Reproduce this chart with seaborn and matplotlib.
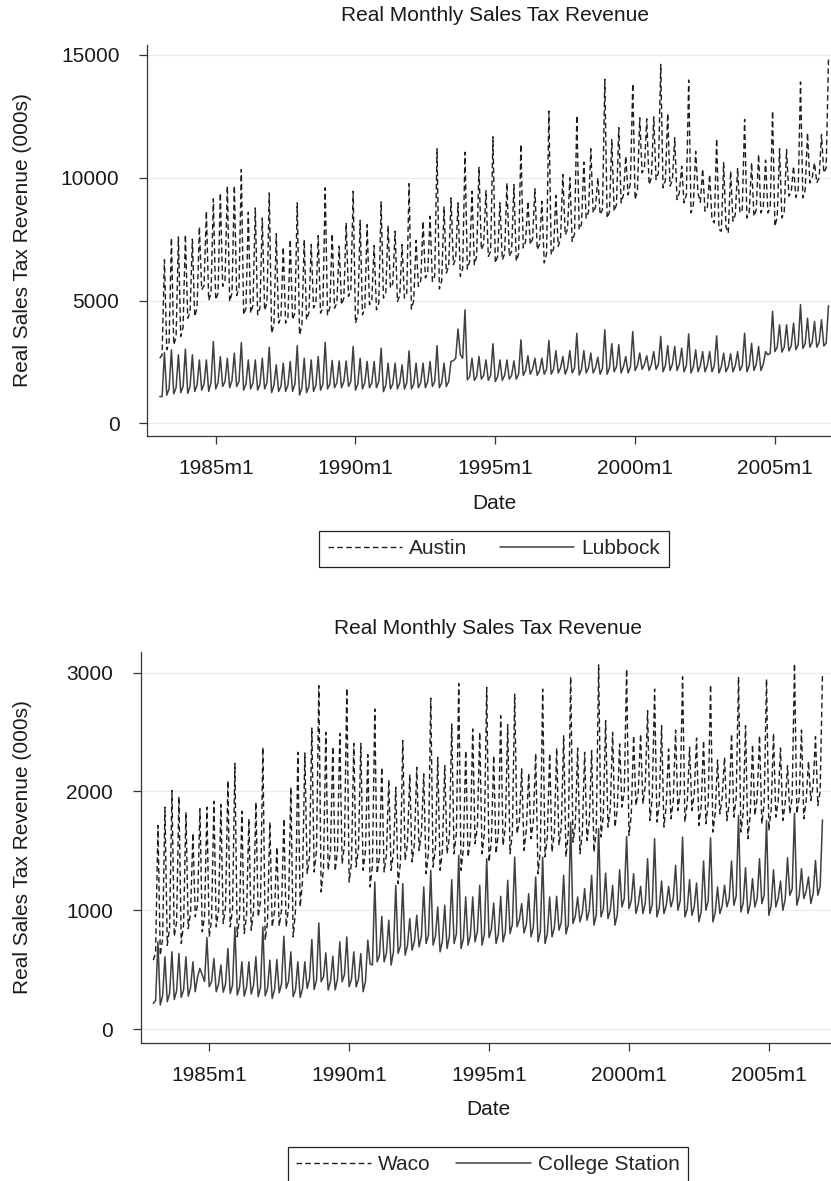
import numpy as np
import pandas as pd
import matplotlib
matplotlib.use('Agg')
import matplotlib.pyplot as plt
import seaborn as sns

# monthly observations, 1983m1 .. 2006m12
months = pd.period_range('1983-01', '2006-12', freq='M')
tick_labels = ['1985m1', '1990m1', '1995m1', '2000m1', '2005m1']

# Real monthly sales tax revenue (000s), one row per year
austin = [
    2650, 2790, 6660, 3000, 3300, 7550, 3200, 3500, 7590, 3540, 3900, 7680,       # 1983
    4280, 4500, 7500, 4350, 4700, 8000, 5440, 5600, 8640, 5000, 5300, 9140,       # 1984
    5030, 5300, 9380, 5580, 5800, 9660, 4960, 5300, 9680, 5200, 5500, 10340,      # 1985
    4420, 4700, 8600, 4490, 4800, 8770, 4420, 4700, 8360, 4600, 4900, 9380,       # 1986
    3670, 4000, 7720, 4080, 4300, 7180, 4080, 4300, 7480, 4220, 4500, 8980,       # 1987
    3600, 4000, 7480, 4220, 4500, 7280, 4700, 4900, 7640, 4490, 4700, 9590,       # 1988
    4420, 4700, 7720, 4690, 4900, 7210, 4830, 5100, 8160, 5170, 5400, 9450,       # 1989
    4080, 4400, 8270, 4420, 4700, 8090, 4830, 5000, 7240, 4620, 4900, 9020,       # 1990
    5100, 5300, 8050, 5510, 5700, 7820, 4960, 5200, 7280, 5100, 5300, 9760,       # 1991
    4650, 5000, 7450, 5580, 5800, 8230, 5920, 6100, 8430, 5780, 6000, 11180,      # 1992
    5470, 5800, 8810, 6120, 6400, 9180, 6460, 6700, 8980, 5980, 6300, 11040,      # 1993
    6280, 6600, 9450, 6460, 6800, 10430, 7070, 7300, 9480, 6800, 7000, 11670,     # 1994
    6530, 6800, 8980, 6660, 6900, 9790, 6800, 7000, 9720, 6600, 6900, 11360,      # 1995
    7140, 7400, 9040, 7280, 7500, 9550, 7070, 7300, 9040, 6530, 6900, 12720,      # 1996
    6870, 7100, 9280, 7210, 7500, 10130, 7680, 7900, 10000, 7410, 7700, 12540,    # 1997
    7890, 8100, 10640, 8360, 8600, 11180, 8570, 8800, 10000, 8500, 8700, 14010,   # 1998
    8360, 8600, 11560, 8640, 8900, 12040, 8980, 9300, 10880, 9300, 9800, 13840,   # 1999
    9110, 9500, 12440, 10200, 10400, 12400, 9720, 10000, 12480, 9930, 10200, 14620,  # 2000
    9590, 9900, 12620, 9660, 9900, 11630, 9110, 9400, 10470, 8980, 9300, 13980,   # 2001
    8570, 8900, 11080, 9380, 9000, 10360, 8640, 8800, 10130, 8300, 8160, 11590,   # 2002
    7900, 7820, 10610, 8000, 7750, 10270, 8230, 8500, 10400, 8570, 8700, 12380,   # 2003
    8360, 8600, 10610, 8430, 8700, 10950, 8570, 8800, 10720, 8570, 8800, 12720,   # 2004
    8020, 8400, 11180, 8360, 8600, 11150, 9250, 9400, 10470, 9200, 9500, 13900,   # 2005
    9180, 9500, 11830, 9790, 10000, 10610, 9790, 10000, 11760, 10200, 10400, 14850,  # 2006
]

lubbock = [
    1090, 1090, 2880, 1150, 1400, 2990, 1200, 1450, 2790, 1250, 1500, 3020,  # 1983
    1220, 1500, 2790, 1300, 1550, 2580, 1350, 1600, 2580, 1300, 1650, 3330,  # 1984
    1400, 1650, 2720, 1500, 1700, 2650, 1450, 1750, 2860, 1500, 1700, 3290,  # 1985
    1350, 1600, 2580, 1400, 1650, 2580, 1350, 1600, 2650, 1400, 1650, 3100,  # 1986
    1250, 1550, 2380, 1300, 1500, 2450, 1300, 1550, 2520, 1300, 1600, 3160,  # 1987
    1150, 1450, 2650, 1250, 1500, 2580, 1300, 1550, 2720, 1350, 1600, 3300,  # 1988
    1400, 1600, 2560, 1450, 1650, 2540, 1450, 1700, 2540, 1500, 1700, 3130,  # 1989
    1350, 1600, 2650, 1400, 1650, 2520, 1450, 1650, 2520, 1450, 1700, 3060,  # 1990
    1290, 1550, 2450, 1400, 1600, 2450, 1400, 1650, 2380, 1400, 1650, 2950,  # 1991
    1400, 1600, 2450, 1450, 1650, 2450, 1450, 1700, 2520, 1500, 1700, 3160,  # 1992
    1450, 1650, 2450, 1500, 1700, 2520, 2550, 2650, 3840, 2790, 2650, 4620,  # 1993
    1770, 1900, 2650, 1750, 1900, 2720, 1800, 1950, 2580, 1750, 1950, 3240,  # 1994
    1700, 1900, 2580, 1750, 1950, 2580, 1800, 1950, 2540, 1800, 2000, 3400,  # 1995
    1950, 2150, 2750, 2000, 2200, 2650, 1950, 2150, 2650, 2000, 2200, 3370,  # 1996
    2000, 2200, 2960, 2050, 2250, 2720, 2000, 2250, 2960, 2050, 2250, 3670,  # 1997
    1970, 2200, 2960, 2050, 2250, 2860, 2050, 2250, 2690, 2000, 2250, 3810,  # 1998
    2000, 2250, 3240, 2100, 2300, 3200, 2050, 2300, 2720, 2050, 2300, 3740,  # 1999
    2150, 2350, 2860, 2200, 2400, 2750, 2150, 2400, 2920, 2200, 2400, 3540,  # 2000
    2100, 2350, 3160, 2150, 2400, 3130, 2150, 2400, 3060, 2100, 2350, 3640,  # 2001
    2050, 2300, 2990, 2100, 2350, 2920, 2100, 2350, 2920, 2100, 2350, 3560,  # 2002
    2050, 2300, 2860, 2100, 2300, 2830, 2100, 2350, 2920, 2150, 2350, 3670,  # 2003
    2100, 2350, 3260, 2150, 2400, 3130, 2150, 2400, 2920, 2790, 2850, 4560,  # 2004
    2920, 3100, 4010, 2900, 3100, 4010, 2950, 3150, 4080, 3000, 3200, 4830,  # 2005
    3050, 3250, 4280, 3100, 3300, 4150, 3100, 3300, 4220, 3150, 3260, 4790,  # 2006
]

waco = [
    580, 640, 1714, 620, 760, 1868, 705, 850, 2008, 780, 900, 1957,          # 1983
    720, 880, 1826, 845, 980, 1649, 944, 1050, 1854, 818, 950, 1868,         # 1984
    776, 920, 1918, 860, 1000, 1890, 888, 1030, 2092, 860, 1010, 2237,       # 1985
    776, 950, 1834, 804, 960, 1770, 832, 990, 1910, 944, 1080, 2372,         # 1986
    748, 900, 1742, 860, 990, 1532, 865, 1000, 1770, 860, 1020, 2036,        # 1987
    776, 1000, 2330, 1028, 1250, 2324, 1308, 1450, 2534, 1322, 1500, 2890,   # 1988
    1154, 1350, 2498, 1336, 1500, 2377, 1330, 1500, 2489, 1392, 1550, 2870,  # 1989
    1238, 1400, 2405, 1364, 1520, 2405, 1336, 1500, 2310, 1196, 1380, 2694,  # 1990
    1308, 1450, 2204, 1322, 1470, 2097, 1336, 1480, 2036, 1224, 1400, 2428,  # 1991
    1420, 1560, 2142, 1406, 1560, 2204, 1504, 1650, 2148, 1308, 1480, 2786,  # 1992
    1364, 1520, 2288, 1336, 1500, 2218, 1476, 1620, 2568, 1476, 1650, 2909,  # 1993
    1336, 1520, 2344, 1448, 1600, 2526, 1560, 1700, 2498, 1476, 1650, 2876,  # 1994
    1406, 1580, 2302, 1476, 1650, 2638, 1546, 1700, 2562, 1476, 1650, 2820,  # 1995
    1644, 1750, 2190, 1504, 1680, 2153, 1602, 1750, 2321, 1308, 1500, 2862,  # 1996
    1448, 1620, 2321, 1490, 1650, 2366, 1546, 1700, 2470, 1448, 1650, 2965,  # 1997
    1574, 1720, 2366, 1476, 1650, 2330, 1588, 1750, 2344, 1490, 1680, 3066,  # 1998
    1616, 1800, 2596, 1700, 1850, 2498, 1700, 1850, 2400, 1868, 2000, 3030,  # 1999
    1630, 1800, 2470, 1882, 2000, 2484, 1896, 2050, 2680, 1756, 1950, 2862,  # 2000
    1742, 1900, 2554, 1700, 1880, 2358, 1770, 1920, 2517, 1840, 2000, 2965,  # 2001
    1742, 1900, 2372, 1840, 1980, 2450, 1714, 1880, 2428, 1728, 1900, 2898,  # 2002
    1658, 1820, 2265, 1812, 1950, 2288, 1756, 1900, 2484, 1784, 1950, 2965,  # 2003
    1658, 1820, 2554, 1602, 1800, 2394, 1798, 1950, 2470, 1728, 1900, 2946,  # 2004
    1672, 1850, 2489, 1784, 1920, 2366, 1756, 1900, 2218, 1812, 1950, 3077,  # 2005
    1812, 1950, 2517, 1770, 1920, 2254, 1924, 2050, 2461, 1882, 2000, 2993,  # 2006
]

college_station = [
    216, 240, 734, 202, 280, 608, 230, 300, 650, 249, 320, 636,              # 1983
    266, 330, 608, 277, 350, 566, 314, 440, 510, 454, 400, 770,              # 1984
    356, 400, 594, 314, 380, 538, 310, 380, 678, 300, 370, 860,              # 1985
    286, 350, 566, 277, 350, 566, 294, 370, 608, 272, 350, 860,              # 1986
    280, 340, 580, 258, 330, 585, 305, 380, 781, 342, 400, 650,              # 1987
    272, 330, 566, 266, 340, 566, 342, 420, 753, 333, 410, 893,              # 1988
    398, 440, 641, 328, 400, 613, 330, 420, 734, 398, 460, 776,              # 1989
    356, 420, 650, 356, 420, 636, 314, 400, 748, 546, 540, 1238,             # 1990
    566, 620, 949, 566, 640, 916, 538, 650, 1210, 636, 700, 1224,            # 1991
    622, 700, 930, 664, 740, 958, 692, 780, 1196, 720, 790, 1336,            # 1992
    706, 780, 1028, 650, 740, 1042, 678, 780, 1257, 720, 800, 1462,          # 1993
    678, 760, 1112, 706, 790, 1112, 734, 820, 1210, 706, 800, 1434,          # 1994
    770, 840, 1061, 720, 800, 1117, 734, 820, 1252, 804, 880, 1448,          # 1995
    860, 920, 1056, 809, 880, 1140, 776, 860, 1280, 734, 820, 1448,          # 1996
    720, 800, 1112, 776, 850, 1117, 832, 900, 1294, 800, 880, 1742,          # 1997
    888, 950, 1112, 902, 980, 1182, 916, 1000, 1294, 874, 960, 1686,         # 1998
    944, 1010, 1313, 930, 1000, 1210, 874, 960, 1341, 1028, 1100, 1621,      # 1999
    1014, 1080, 1308, 972, 1050, 1201, 972, 1060, 1434, 972, 1050, 1602,     # 2000
    944, 1020, 1246, 972, 1040, 1201, 1028, 1100, 1378, 1000, 1080, 1616,    # 2001
    944, 1010, 1257, 958, 1030, 1229, 902, 990, 1414, 1000, 1080, 1610,      # 2002
    902, 980, 1196, 972, 1040, 1210, 1028, 1100, 1414, 1042, 1120, 1798,     # 2003
    986, 1060, 1358, 972, 1050, 1266, 1028, 1100, 1434, 1056, 1130, 1756,    # 2004
    958, 1040, 1341, 1028, 1100, 1246, 1000, 1090, 1442, 1126, 1180, 1817,   # 2005
    1042, 1120, 1350, 1098, 1160, 1280, 1056, 1140, 1420, 1126, 1200, 1761,  # 2006
]

for s in (austin, lubbock, waco, college_station):
    assert len(s) == len(months)

sns.set_theme(style='ticks')
plt.rcParams['font.family'] = ['Liberation Sans', 'DejaVu Sans']
plt.rcParams['font.size'] = 15

W, H = 831, 1181
fig = plt.figure(figsize=(W / 100, H / 100), dpi=100)


def add_axes_px(left, right, top, bottom):
    return fig.add_axes([left / W, 1 - bottom / H, (right - left) / W, (bottom - top) / H])


t = np.arange(len(months))
tick_pos = [(int(lab[:4]) - months[0].year) * 12 for lab in tick_labels]
dark = '#1e1e1e'
grey = '#404040'


def panel(ax, dashed, solid, names, ylim, yticks, ylab_x, leg_top, leg_cx, colspace, title_pad):
    df = pd.DataFrame({'t': t, names[0]: dashed, names[1]: solid})
    sns.lineplot(data=df, x='t', y=names[1], ax=ax, color=grey, lw=1.1, label=names[1])
    sns.lineplot(data=df, x='t', y=names[0], ax=ax, color=dark, lw=1.0,
                 linestyle=(0, (4.0, 2.4)), label=names[0])
    ax.set_xlim(-5.48, 292.8)
    ax.set_ylim(*ylim)
    ax.set_xticks(tick_pos)
    ax.set_xticklabels(tick_labels)
    ax.set_yticks(yticks)
    ax.yaxis.grid(True, color='#ececec', lw=0.8)
    ax.set_axisbelow(True)
    sns.despine(ax=ax)
    for side in ('left', 'bottom'):
        ax.spines[side].set_color('#333333')
        ax.spines[side].set_linewidth(0.9)
    ax.tick_params(axis='both', direction='out', length=5.8, width=0.9,
                   color='#333333', labelsize=15, labelcolor='#1a1a1a')
    ax.tick_params(axis='y', pad=14)
    ax.tick_params(axis='x', pad=11)
    ax.set_title('Real Monthly Sales Tax Revenue', fontsize=15, pad=title_pad, color='#1a1a1a')
    ax.set_xlabel('Date', fontsize=15, labelpad=11, color='#1a1a1a')
    ax.set_ylabel('Real Sales Tax Revenue (000s)', fontsize=15, color='#1a1a1a')
    ax.yaxis.set_label_coords(ylab_x, 0.5)
    handles, labels = ax.get_legend_handles_labels()
    order = [labels.index(n) for n in names]
    leg = ax.legend([handles[i] for i in order], [labels[i] for i in order],
                    ncol=2, loc='upper center', bbox_to_anchor=(leg_cx / W, 1 - leg_top / H),
                    bbox_transform=fig.transFigure, frameon=True, fancybox=False,
                    framealpha=1, edgecolor='#222222', borderpad=0.4, handlelength=3.56,
                    handletextpad=0.34, columnspacing=colspace, borderaxespad=0, fontsize=15)
    leg.get_frame().set_linewidth(0.9)


ax1 = add_axes_px(147, 842, 45, 436)
panel(ax1, austin, lubbock, ['Austin', 'Lubbock'], (-517, 15407), [0, 5000, 10000, 15000],
      (32 - 147) / 695, 531, 494, 1.59, 17)

ax2 = add_axes_px(140.5, 836, 652, 1042.7)
panel(ax2, waco, college_station, ['Waco', 'College Station'], (-115, 3174), [0, 1000, 2000, 3000],
      (32 - 140.5) / 695.5, 1147, 488, 1.25, 13)

fig.savefig('out.png', dpi=100)
